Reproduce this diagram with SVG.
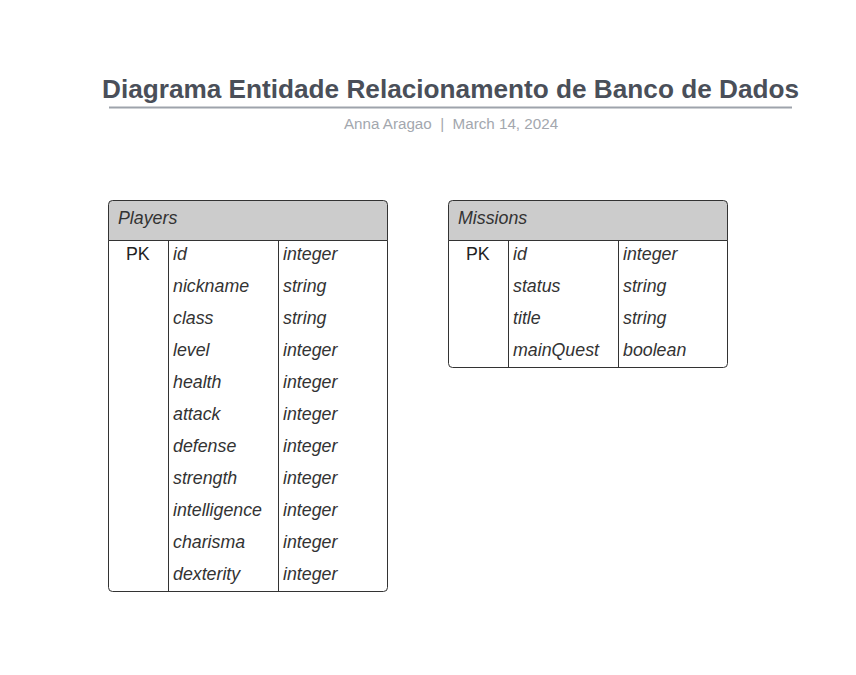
<svg xmlns="http://www.w3.org/2000/svg" width="856" height="675" viewBox="0 0 856 675">
<style>
.title{font-family:"Liberation Sans",Arial,sans-serif;font-weight:bold;font-size:26.2px;fill:#4a4f59}
.sub{font-family:"Liberation Sans",Arial,sans-serif;font-size:15.2px;fill:#a3a7ae;white-space:pre}
.box{fill:#ffffff;stroke:#333333;stroke-width:1}
.hdr{fill:#cccccc;stroke:#333333;stroke-width:1}
.ln{stroke:#333333;stroke-width:1}
.t{font-family:"Liberation Sans",Arial,sans-serif;font-size:17.8px;font-style:italic;fill:#333333}
.pk{font-family:"Liberation Sans",Arial,sans-serif;font-size:17.8px;fill:#222222}
</style>
<rect width="856" height="675" fill="#ffffff"/>
<g id="header">
<text class="title" x="450.5" y="98" text-anchor="middle">Diagrama Entidade Relacionamento de Banco de Dados</text>
<line x1="109" y1="107.5" x2="792" y2="107.5" stroke="#9ea3ab" stroke-width="2"/>
<text class="sub" x="451" y="128.5" text-anchor="middle" xml:space="preserve">Anna Aragao  |  March 14, 2024</text>
</g>
<g id="players">
<path class="box" d="M108.5,240.5 H387.5 V587.5 Q387.5,591.5 383.5,591.5 H112.5 Q108.5,591.5 108.5,587.5 Z"/>
<path class="hdr" d="M108.5,240.5 V204.5 Q108.5,200.5 112.5,200.5 H383.5 Q387.5,200.5 387.5,204.5 V240.5 Z"/>
<line class="ln" x1="168.5" y1="240.5" x2="168.5" y2="591.5"/>
<line class="ln" x1="278.5" y1="240.5" x2="278.5" y2="591.5"/>
<text class="t" x="118" y="223.5">Players</text>
<text class="pk" x="126" y="259.5">PK</text>
<text class="t" x="173" y="259.5">id</text><text class="t" x="283" y="259.5">integer</text>
<text class="t" x="173" y="291.5">nickname</text><text class="t" x="283" y="291.5">string</text>
<text class="t" x="173" y="323.5">class</text><text class="t" x="283" y="323.5">string</text>
<text class="t" x="173" y="355.5">level</text><text class="t" x="283" y="355.5">integer</text>
<text class="t" x="173" y="387.5">health</text><text class="t" x="283" y="387.5">integer</text>
<text class="t" x="173" y="419.5">attack</text><text class="t" x="283" y="419.5">integer</text>
<text class="t" x="173" y="451.5">defense</text><text class="t" x="283" y="451.5">integer</text>
<text class="t" x="173" y="483.5">strength</text><text class="t" x="283" y="483.5">integer</text>
<text class="t" x="173" y="515.5">intelligence</text><text class="t" x="283" y="515.5">integer</text>
<text class="t" x="173" y="547.5">charisma</text><text class="t" x="283" y="547.5">integer</text>
<text class="t" x="173" y="579.5">dexterity</text><text class="t" x="283" y="579.5">integer</text>
</g>
<g id="missions">
<path class="box" d="M448.5,240.5 H727.5 V363.5 Q727.5,367.5 723.5,367.5 H452.5 Q448.5,367.5 448.5,363.5 Z"/>
<path class="hdr" d="M448.5,240.5 V204.5 Q448.5,200.5 452.5,200.5 H723.5 Q727.5,200.5 727.5,204.5 V240.5 Z"/>
<line class="ln" x1="508.5" y1="240.5" x2="508.5" y2="367.5"/>
<line class="ln" x1="618.5" y1="240.5" x2="618.5" y2="367.5"/>
<text class="t" x="458" y="223.5">Missions</text>
<text class="pk" x="466" y="259.5">PK</text>
<text class="t" x="513" y="259.5">id</text><text class="t" x="623" y="259.5">integer</text>
<text class="t" x="513" y="291.5">status</text><text class="t" x="623" y="291.5">string</text>
<text class="t" x="513" y="323.5">title</text><text class="t" x="623" y="323.5">string</text>
<text class="t" x="513" y="355.5">mainQuest</text><text class="t" x="623" y="355.5">boolean</text>
</g>
<g id="connectors"/>
</svg>
